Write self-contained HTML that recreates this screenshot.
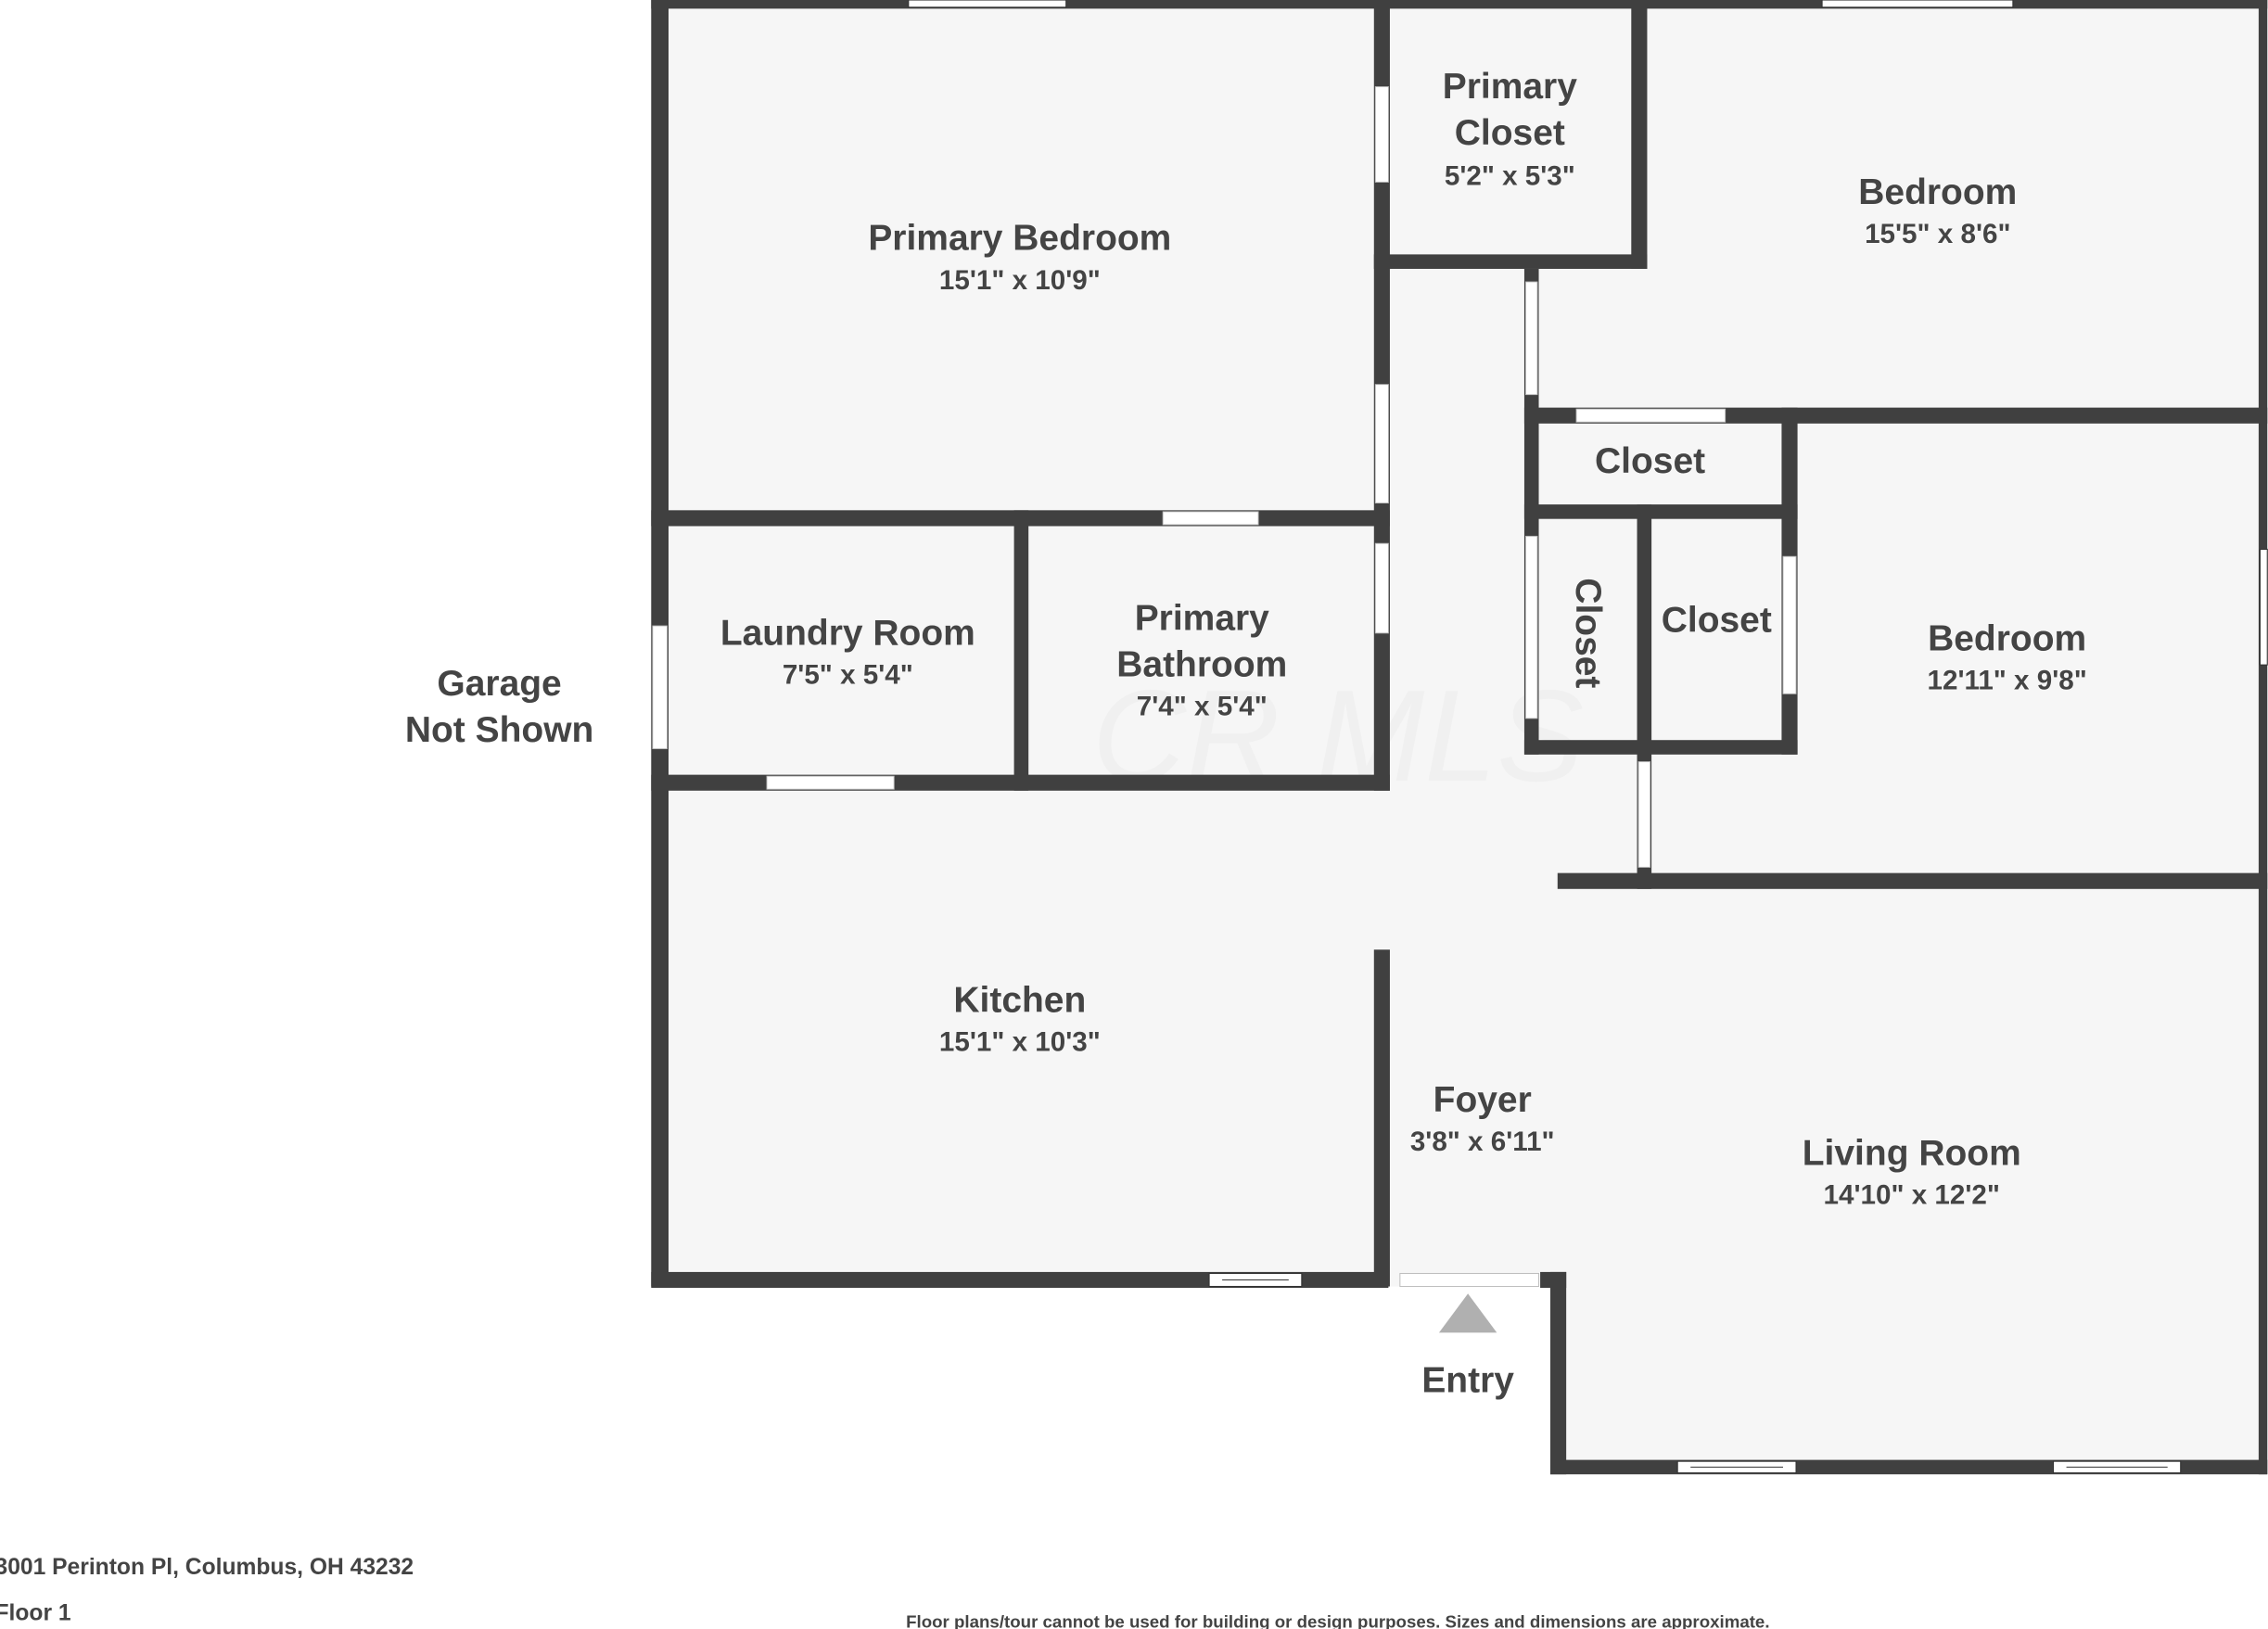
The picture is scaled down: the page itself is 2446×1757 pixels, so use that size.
<!DOCTYPE html>
<html><head><meta charset="utf-8"><style>
html,body{margin:0;padding:0;background:#fff;}
svg{display:block;}
text{font-family:"Liberation Sans","DejaVu Sans",sans-serif;font-weight:bold;fill:#444;text-anchor:middle;}
</style></head><body>
<svg width="2446" height="1757" viewBox="0 0 1568 1127" xmlns="http://www.w3.org/2000/svg">
<rect width="1568" height="1127" fill="#fff"/>
<path d="M450 0 H1568 V1020 H1072 V890 H450 Z" fill="#f6f6f6"/>
<text x="925" y="540" style="font-size:90px;font-weight:normal;font-style:italic;fill:#f0f0f0">CR MLS</text>
<g fill="#404040">
<rect x="450" y="0" width="1118" height="6"/>
<rect x="450" y="0" width="12" height="890"/>
<rect x="1562" y="0" width="6" height="1020"/>
<rect x="450" y="880" width="510" height="11"/>
<rect x="1065" y="880" width="18" height="11"/>
<rect x="1072" y="880" width="11" height="140"/>
<rect x="1072" y="1010" width="496" height="10"/>
<rect x="950" y="0" width="11" height="547"/>
<rect x="450" y="353" width="511" height="11"/>
<rect x="1128" y="0" width="11" height="186"/>
<rect x="950" y="176" width="189" height="10"/>
<rect x="1054" y="186" width="10" height="336"/>
<rect x="1054" y="282" width="514" height="11"/>
<rect x="1232" y="282" width="11" height="240"/>
<rect x="1054" y="349" width="189" height="10"/>
<rect x="1132" y="349" width="10" height="266"/>
<rect x="1054" y="512" width="189" height="10"/>
<rect x="1077" y="604" width="491" height="11"/>
<rect x="701" y="353" width="10" height="194"/>
<rect x="450" y="536" width="511" height="11"/>
<rect x="950" y="657" width="11" height="233"/>
</g>
<g fill="#fff" stroke="#bbb" stroke-width="0.6">
<rect x="951" y="60" width="9" height="66"/>
<rect x="951" y="266" width="9" height="82"/>
<rect x="951" y="376" width="9" height="62"/>
<rect x="1055" y="195" width="8" height="78"/>
<rect x="1090" y="283" width="103" height="9"/>
<rect x="1055" y="371" width="8" height="126"/>
<rect x="1233" y="385" width="9" height="95"/>
<rect x="1133" y="527" width="8" height="73"/>
<rect x="804" y="354" width="66" height="9"/>
<rect x="530" y="537" width="88" height="9"/>
<rect x="451" y="433" width="10" height="85"/>
<rect x="968" y="881" width="96" height="9"/>
</g>
<g fill="#fff" stroke="#333" stroke-width="0.7">
<rect x="628" y="0" width="109" height="5"/>
<rect x="1260" y="0" width="132" height="5"/>
<rect x="836" y="881" width="64" height="9"/><line x1="845" y1="885.5" x2="891" y2="885.5"/>
<rect x="1160" y="1011" width="82" height="8"/><line x1="1169" y1="1015" x2="1233" y2="1015"/>
<rect x="1420" y="1011" width="88" height="8"/><line x1="1429" y1="1015" x2="1499" y2="1015"/>
<rect x="1563" y="380" width="5" height="80"/>
</g>
<g style="font-size:25px">
<text x="705" y="173">Primary Bedroom</text>
<text x="1044" y="68">Primary</text><text x="1044" y="100">Closet</text>
<text x="1340" y="141">Bedroom</text>
<text x="1141" y="327">Closet</text>
<text x="1187" y="437">Closet</text>
<text transform="translate(1090,438) rotate(90)" x="0" y="0">Closet</text>
<text x="1388" y="450">Bedroom</text>
<text x="586" y="446">Laundry Room</text>
<text x="831" y="436">Primary</text><text x="831" y="468">Bathroom</text>
<text x="345" y="481">Garage</text><text x="345" y="513">Not Shown</text>
<text x="705" y="700">Kitchen</text>
<text x="1025" y="769">Foyer</text>
<text x="1322" y="806">Living Room</text>
<text x="1015" y="963">Entry</text>
</g>
<g style="font-size:19px">
<text x="705" y="200">15'1" x 10'9"</text>
<text x="1044" y="128">5'2" x 5'3"</text>
<text x="1340" y="168">15'5" x 8'6"</text>
<text x="1388" y="477">12'11" x 9'8"</text>
<text x="586" y="473">7'5" x 5'4"</text>
<text x="831" y="495">7'4" x 5'4"</text>
<text x="705" y="727">15'1" x 10'3"</text>
<text x="1025" y="796">3'8" x 6'11"</text>
<text x="1322" y="833">14'10" x 12'2"</text>
</g>
<polygon points="1015,895 995,922 1035,922" fill="#b0b0b0"/>
<text x="-4" y="1089" style="text-anchor:start;font-size:15.8px">3001 Perinton Pl, Columbus, OH 43232</text>
<text x="-4" y="1121" style="text-anchor:start;font-size:15.8px">Floor 1</text>
<text x="925" y="1126" style="font-size:12px">Floor plans/tour cannot be used for building or design purposes. Sizes and dimensions are approximate.</text>
</svg>
</body></html>
